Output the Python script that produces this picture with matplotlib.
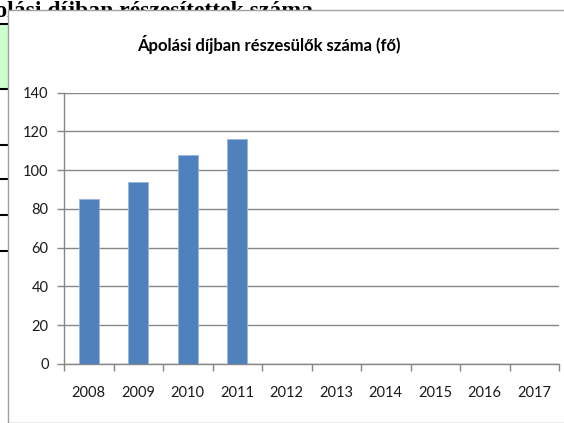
import matplotlib
matplotlib.use("Agg")
import matplotlib.pyplot as plt
from matplotlib.patches import Rectangle
from matplotlib.lines import Line2D

years = ["2008", "2009", "2010", "2011", "2012", "2013", "2014", "2015", "2016", "2017"]
values = [85, 94, 108, 116, None, None, None, None, None, None]
y_ticks = [0, 20, 40, 60, 80, 100, 120, 140]
title = "Ápolási díjban részesülők száma (fő)"
doc_heading = "Ápolási díjban részesítettek száma"

W, H = 564, 423
fig = plt.figure(figsize=(W / 100, H / 100), dpi=100)
fig.patch.set_facecolor("white")

def fx(px):
    return px / W

def fy(py):
    return 1 - py / H

font_list = ["Lato", "DejaVu Sans"]

# Document heading behind the chart frame (cut off)
fig.text(fx(313), fy(17), doc_heading, ha="right", va="baseline",
         fontsize=17, fontweight="bold", family=["Liberation Serif", "DejaVu Serif"],
         zorder=0.2)

# Green table cell at left and table lines
fig.patches.append(Rectangle((0, fy(89)), fx(8), fy(24) - fy(89), transform=fig.transFigure,
                             facecolor="#ccffcc", edgecolor="none", zorder=0.3))
for yy in [24, 89, 145, 179, 215, 251]:
    fig.lines.append(Line2D([0, fx(8)], [fy(yy), fy(yy)], transform=fig.transFigure,
                            color="black", linewidth=1.5, zorder=0.4))

# Chart frame
fig.patches.append(Rectangle((fx(8), 0), 1 - fx(8) + 0.01, fy(10) + 0.001, transform=fig.transFigure,
                             facecolor="white", edgecolor="#a0a0a0", linewidth=1.0, zorder=0.6))

ax = fig.add_axes([fx(64), fy(363.8), fx(559) - fx(64), fy(92.7) - fy(363.8)])
ax.set_zorder(2)
ax.patch.set_alpha(0)

xs = list(range(len(years)))
bar_x = [x for x, v in zip(xs, values) if v is not None]
bar_v = [v for v in values if v is not None]
ax.bar(bar_x, bar_v, width=0.41, color="#4f81bd", edgecolor="#9bb6dc", linewidth=0.7, zorder=3)

ax.set_xlim(-0.5, len(years) - 0.5)
ax.set_ylim(0, 140)
ax.set_yticks(y_ticks)
ax.set_yticklabels([str(t) for t in y_ticks], family=font_list, fontsize=10.5, color="#1a1a1a")
ax.set_xticks(xs)
ax.set_xticklabels(years, family=font_list, fontsize=10.5, color="#1a1a1a")
ax.tick_params(axis="x", length=0, pad=16)
ax.set_xticks([x + 0.5 for x in [-1] + xs], minor=True)
ax.tick_params(axis="x", which="minor", length=5, color="#868686", width=1)
ax.tick_params(axis="y", length=5, color="#868686", width=1, pad=6)

ax.yaxis.grid(True, color="#868686", linewidth=1.0, zorder=1)
ax.set_axisbelow(True)
for side in ["top", "right"]:
    ax.spines[side].set_visible(False)
for side in ["left", "bottom"]:
    ax.spines[side].set_color("#868686")
    ax.spines[side].set_linewidth(1.0)

fig.text(fx(268.5), fy(45), title, ha="center", va="center", fontsize=12,
         fontweight="bold", family=font_list, zorder=3)

fig.savefig("out.png", dpi=100)
